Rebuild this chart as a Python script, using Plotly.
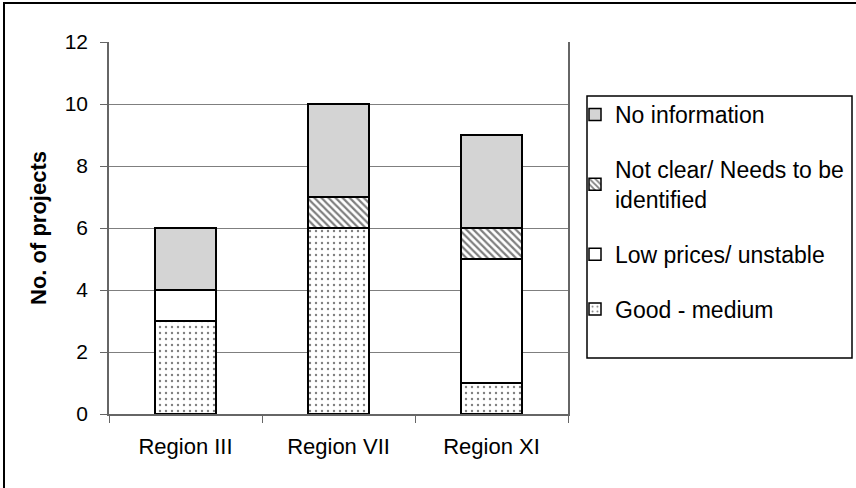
import plotly.graph_objects as go

regions = ["Region III", "Region VII", "Region XI"]
good_medium = [3, 6, 1]
low_prices = [1, 0, 4]
not_clear = [0, 1, 1]
no_info = [2, 3, 3]
y_ticks = [0, 2, 4, 6, 8, 10, 12]

FONT = "Liberation Sans, Arial, sans-serif"
line = dict(color="black", width=1.5)

fig = go.Figure()
fig.add_bar(x=regions, y=good_medium, name="Good - medium", legendgroup="a", legendrank=4,
            marker=dict(color="white", line=line,
                        pattern=dict(shape=".", fgcolor="black", bgcolor="white", size=6, solidity=0.12)))
fig.add_bar(x=regions, y=low_prices, name="Low prices/ unstable", legendgroup="b", legendrank=3,
            marker=dict(color="white", line=line))
fig.add_bar(x=regions, y=not_clear, name="Not clear/ Needs to be<br>identified", legendgroup="c", legendrank=2,
            marker=dict(color="white", line=line,
                        pattern=dict(shape="\\", fgcolor="black", bgcolor="white", size=5, solidity=0.45)))
fig.add_bar(x=regions, y=no_info, name="No information", legendgroup="d", legendrank=1,
            marker=dict(color="#d4d4d4", line=line))

L, R, T, B = 109, 568, 42, 414
W, H = 856, 488
pw, ph = R - L, B - T

def px(x):
    return (x - L) / pw

def py(y):
    return (B - y) / ph

fig.update_layout(
    barmode="stack",
    bargap=0.6,
    width=W, height=H,
    margin=dict(l=L, r=W - R, t=T, b=H - B, autoexpand=False),
    paper_bgcolor="white", plot_bgcolor="white",
    font=dict(family=FONT, size=21, color="black"),
    showlegend=True,
    hovermode=False,
    legend=dict(
        x=px(575), y=py(93), xanchor="left", yanchor="top",
        borderwidth=0, bgcolor="rgba(0,0,0,0)",
        traceorder="grouped", tracegroupgap=22,
        font=dict(family=FONT, size=23),
        itemwidth=30,
    ),
    shapes=[
        dict(type="rect", xref="paper", yref="paper",
             x0=px(4), x1=px(860), y0=py(492), y1=py(3),
             line=dict(color="black", width=2), layer="below"),
        dict(type="rect", xref="paper", yref="paper",
             x0=px(587), x1=px(852), y0=py(358), y1=py(96),
             line=dict(color="black", width=1.5), layer="below"),
    ],
)
fig.update_xaxes(
    type="category", showline=True, linecolor="#666666", linewidth=1.5,
    ticks="outside", tickson="boundaries", ticklen=7, tickcolor="#666666",
    showgrid=False, tickfont=dict(size=22), range=[-0.5, 2.5],
    ticklabelstandoff=12,
)
fig.update_yaxes(
    range=[0, 12], tickvals=y_ticks, showline=True, linecolor="#666666", linewidth=1.5,
    mirror=True,
    ticks="outside", ticklen=7, tickcolor="#666666",
    showgrid=True, gridcolor="#7f7f7f", gridwidth=1, zeroline=False,
    title=dict(text="<b>No. of projects</b>", font=dict(size=22), standoff=12),
    tickfont=dict(size=21), ticklabelstandoff=8,
)

fig.write_html(
    "out.html",
    config={"displayModeBar": False},
    post_script="document.body.style.margin='0';document.body.style.overflow='hidden';",
)
